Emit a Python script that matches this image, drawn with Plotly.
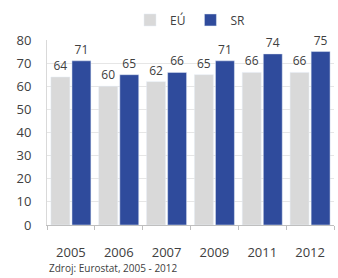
import plotly.graph_objects as go

years = ["2005", "2006", "2007", "2009", "2011", "2012"]
eu = [64, 60, 62, 65, 66, 66]
sr = [71, 65, 66, 71, 74, 75]
yticks = [0, 10, 20, 30, 40, 50, 60, 70, 80]

font = "Open Sans, Liberation Sans, sans-serif"
fig = go.Figure()
fig.add_trace(go.Bar(x=years, y=eu, name="EÚ", marker_color="#D9D9D9",
                     text=eu, textposition="outside", cliponaxis=False,
                     textfont=dict(size=12, color="#404040")))
fig.add_trace(go.Bar(x=years, y=sr, name="SR", marker_color="#2F4B9C",
                     text=sr, textposition="outside", cliponaxis=False,
                     textfont=dict(size=12, color="#404040")))
fig.update_layout(
    width=338, height=278,
    margin=dict(l=47, r=4, t=40, b=53, autoexpand=False),
    paper_bgcolor="white", plot_bgcolor="white",
    barmode="group", bargap=0.12, bargroupgap=0.1,
    font=dict(family=font, size=12, color="#404040"),
    legend=dict(orientation="h", x=0.5, xanchor="center", y=1.03, yanchor="bottom",
                font=dict(size=12), itemwidth=30, traceorder="normal"),
    showlegend=True,
    annotations=[dict(text="Zdroj: Eurostat, 2005 - 2012", xref="paper", yref="paper",
                      x=0.003, y=-0.278, xanchor="left", yanchor="bottom",
                      showarrow=False, borderpad=0, font=dict(size=10, color="#404040"))],
)
fig.update_yaxes(range=[0, 80], tickvals=yticks, showgrid=True, gridcolor="#E6E6E6",
                 showline=True, linecolor="#D9D9D9", ticks="", tickfont=dict(size=13),
                 zeroline=False, ticklabelstandoff=12)
fig.update_xaxes(showline=True, linecolor="#BFBFBF", ticks="outside", tickson="boundaries",
                 ticklen=4, tickcolor="#BFBFBF", tickfont=dict(size=13),
                 showgrid=False, ticklabelstandoff=15)
fig.write_html("out.html", config={"displayModeBar": False},
               post_script="document.body.style.margin='0';document.body.style.overflow='hidden';")
